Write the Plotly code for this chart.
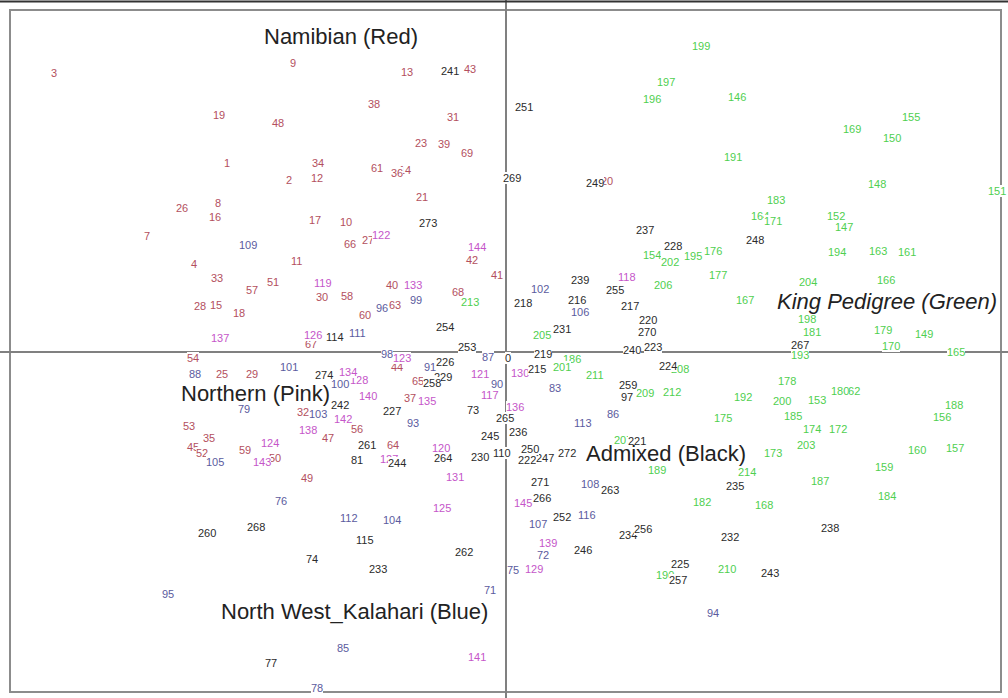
import plotly.graph_objects as go

# PCA sample scores: (sample id, PC1, PC2), grouped by population
NAMIBIAN = [
    ("3", -4.52, 2.79), ("9", -2.13, 2.89), ("13", -0.99, 2.80), ("43", -0.36, 2.83),
    ("38", -1.32, 2.48), ("19", -2.87, 2.37), ("48", -2.28, 2.29), ("31", -0.53, 2.35),
    ("23", -0.85, 2.09), ("39", -0.62, 2.08), ("69", -0.39, 1.99), ("1", -2.79, 1.89),
    ("34", -1.88, 1.89), ("12", -1.89, 1.74), ("2", -2.17, 1.72), ("61", -1.29, 1.84),
    ("36", -1.09, 1.79), ("14", -1.01, 1.82), ("20", 1.01, 1.71), ("21", -0.84, 1.55),
    ("26", -3.24, 1.44), ("8", -2.88, 1.49), ("16", -2.91, 1.35), ("7", -3.59, 1.16),
    ("17", -1.91, 1.32), ("10", -1.60, 1.30), ("27", -1.38, 1.12), ("66", -1.56, 1.08),
    ("11", -2.10, 0.91), ("42", -0.34, 0.92), ("4", -3.12, 0.88), ("41", -0.09, 0.77),
    ("33", -2.89, 0.74), ("51", -2.33, 0.70), ("57", -2.54, 0.62), ("40", -1.14, 0.67),
    ("30", -1.84, 0.55), ("58", -1.59, 0.56), ("68", -0.48, 0.60), ("63", -1.11, 0.47),
    ("28", -3.06, 0.46), ("15", -2.90, 0.47), ("18", -2.67, 0.39), ("60", -1.41, 0.37),
    ("67", -1.95, 0.08), ("54", -3.13, -0.06), ("25", -2.84, -0.22), ("29", -2.54, -0.22),
    ("44", -1.09, -0.15), ("65", -0.88, -0.29), ("37", -0.96, -0.46), ("32", -2.03, -0.60),
    ("53", -3.17, -0.74), ("56", -1.49, -0.77), ("35", -2.97, -0.86), ("47", -1.78, -0.86),
    ("64", -1.13, -0.93), ("45", -3.13, -0.95), ("52", -3.04, -1.01), ("59", -2.61, -0.98),
    ("50", -2.31, -1.06), ("49", -1.99, -1.26),
]

NORTHERN = [
    ("137", -2.86, 0.14), ("144", -0.29, 1.05), ("122", -1.25, 1.17), ("119", -1.83, 0.69),
    ("133", -0.93, 0.67), ("126", -1.93, 0.17), ("123", -1.04, -0.06), ("134", -1.58, -0.20),
    ("128", -1.47, -0.28), ("121", -0.26, -0.22), ("117", -0.16, -0.43), ("140", -1.38, -0.44),
    ("135", -0.79, -0.49), ("142", -1.63, -0.67), ("138", -1.98, -0.78), ("124", -2.36, -0.91),
    ("143", -2.44, -1.10), ("127", -1.17, -1.07), ("120", -0.65, -0.96), ("131", -0.51, -1.25),
    ("125", -0.64, -1.56), ("141", -0.29, -3.05), ("118", 1.21, 0.75), ("136", 0.09, -0.55),
    ("145", 0.17, -1.51), ("139", 0.42, -1.91), ("129", 0.28, -2.17), ("130", 0.14, -0.21),
]

KALAHARI = [
    ("109", -2.58, 1.07), ("99", -0.90, 0.52), ("96", -1.24, 0.44), ("111", -1.49, 0.19),
    ("98", -1.19, -0.02), ("87", -0.18, -0.05), ("88", -3.11, -0.22), ("101", -2.17, -0.15),
    ("100", -1.66, -0.32), ("90", -0.09, -0.32), ("79", -2.62, -0.57), ("103", -1.88, -0.62),
    ("93", -0.93, -0.71), ("105", -2.91, -1.10), ("76", -2.25, -1.49), ("112", -1.57, -1.66),
    ("104", -1.14, -1.68), ("95", -3.38, -2.42), ("71", -0.16, -2.38), ("85", -1.63, -2.96),
    ("78", -1.89, -3.36), ("102", 0.34, 0.63), ("106", 0.74, 0.40), ("83", 0.49, -0.36),
    ("86", 1.07, -0.62), ("113", 0.77, -0.71), ("108", 0.84, -1.32), ("116", 0.81, -1.63),
    ("107", 0.32, -1.72), ("75", 0.07, -2.18), ("94", 2.07, -2.61), ("72", 0.37, -2.03),
    ("91", -0.76, -0.15),
]

KING = [
    ("199", 1.95, 3.06), ("197", 1.60, 2.70), ("196", 1.46, 2.53), ("146", 2.31, 2.55),
    ("155", 4.05, 2.35), ("169", 3.46, 2.23), ("150", 3.86, 2.14), ("191", 2.27, 1.95),
    ("148", 3.71, 1.68), ("151", 4.91, 1.61), ("183", 2.70, 1.52), ("164", 2.54, 1.36),
    ("171", 2.67, 1.31), ("152", 3.30, 1.36), ("147", 3.38, 1.25), ("194", 3.31, 1.00),
    ("163", 3.72, 1.01), ("161", 4.01, 1.00), ("154", 1.46, 0.97), ("202", 1.64, 0.90),
    ("195", 1.87, 0.96), ("176", 2.07, 1.01), ("177", 2.12, 0.77), ("206", 1.57, 0.67),
    ("204", 3.02, 0.70), ("166", 3.80, 0.72), ("167", 2.39, 0.52), ("213", -0.36, 0.50),
    ("205", 0.36, 0.17), ("198", 3.01, 0.33), ("181", 3.06, 0.20), ("179", 3.77, 0.22),
    ("149", 4.18, 0.18), ("170", 3.85, 0.06), ("193", 2.94, -0.03), ("165", 4.50, 0.00),
    ("186", 0.66, -0.07), ("201", 0.56, -0.15), ("211", 0.89, -0.23), ("208", 1.74, -0.17),
    ("209", 1.39, -0.41), ("212", 1.66, -0.40), ("178", 2.81, -0.29), ("180", 3.34, -0.39),
    ("162", 3.45, -0.39), ("192", 2.37, -0.45), ("200", 2.76, -0.49), ("153", 3.11, -0.48),
    ("188", 4.48, -0.53), ("156", 4.36, -0.65), ("185", 2.87, -0.64), ("175", 2.17, -0.66),
    ("174", 3.06, -0.77), ("172", 3.32, -0.77), ("203", 3.00, -0.93), ("173", 2.67, -1.01),
    ("160", 4.11, -0.98), ("157", 4.49, -0.96), ("207", 1.17, -0.88), ("159", 3.78, -1.15),
    ("189", 1.51, -1.18), ("214", 2.41, -1.20), ("187", 3.14, -1.29), ("184", 3.81, -1.44),
    ("182", 1.96, -1.50), ("168", 2.58, -1.53), ("210", 2.21, -2.17), ("190", 1.59, -2.23),
]

ADMIXED = [
    ("241", -0.56, 2.81), ("251", 0.18, 2.45), ("269", 0.06, 1.74), ("249", 0.89, 1.69),
    ("273", -0.78, 1.29), ("237", 1.39, 1.22), ("228", 1.67, 1.06), ("248", 2.49, 1.12),
    ("239", 0.74, 0.72), ("255", 1.09, 0.62), ("218", 0.17, 0.49), ("216", 0.71, 0.52),
    ("217", 1.24, 0.46), ("220", 1.42, 0.32), ("270", 1.41, 0.20), ("231", 0.56, 0.23),
    ("254", -0.61, 0.25), ("253", -0.39, 0.05), ("219", 0.37, -0.02), ("240", 1.26, 0.02),
    ("223", 1.47, 0.05), ("267", 2.94, 0.07), ("215", 0.31, -0.17), ("224", 1.62, -0.14),
    ("226", -0.61, -0.10), ("274", -1.82, -0.23), ("258", -0.74, -0.31), ("229", -0.63, -0.25),
    ("259", 1.22, -0.33), ("97", 1.21, -0.45), ("242", -1.66, -0.53), ("227", -1.14, -0.59),
    ("73", -0.33, -0.58), ("265", -0.01, -0.66), ("236", 0.12, -0.80), ("245", -0.16, -0.84),
    ("221", 1.31, -0.89), ("261", -1.39, -0.93), ("250", 0.24, -0.97), ("222", 0.21, -1.08),
    ("247", 0.39, -1.06), ("272", 0.61, -1.01), ("110", -0.04, -1.01), ("230", -0.26, -1.05),
    ("264", -0.63, -1.06), ("81", -1.49, -1.08), ("244", -1.09, -1.11), ("271", 0.34, -1.30),
    ("263", 1.04, -1.38), ("235", 2.29, -1.34), ("266", 0.36, -1.46), ("252", 0.56, -1.65),
    ("234", 1.22, -1.83), ("256", 1.37, -1.77), ("232", 2.24, -1.85), ("238", 3.24, -1.76),
    ("246", 0.77, -1.98), ("260", -2.99, -1.81), ("268", -2.50, -1.75), ("115", -1.41, -1.88),
    ("262", -0.42, -2.00), ("74", -1.94, -2.07), ("233", -1.28, -2.17), ("225", 1.74, -2.12),
    ("257", 1.72, -2.28), ("243", 2.64, -2.21), ("77", -2.35, -3.11), ("114", -1.71, 0.15),
    ("0", 0.02, -0.06),
]

GROUPS = [
    ("Namibian", NAMIBIAN, "#b3505e"),
    ("Northern", NORTHERN, "#c556c9"),
    ("North West_Kalahari", KALAHARI, "#5b5b9e"),
    ("King Pedigree", KING, "#4fcf4f"),
    ("Admixed", ADMIXED, "#2b2b2b"),
]

FONT = "Liberation Sans, Arial, sans-serif"

fig = go.Figure()

# invisible point layer carrying the scores (hover only)
for name, pts, color in GROUPS:
    fig.add_trace(go.Scatter(
        x=[p[1] for p in pts], y=[p[2] for p in pts],
        text=[p[0] for p in pts], mode="markers", name=name,
        marker=dict(size=6, color=color, opacity=0),
        hovertemplate="%{text}<extra>" + name + "</extra>", showlegend=False,
    ))

# sample-id labels, drawn in id order with an opaque white box
labels = []
for name, pts, color in GROUPS:
    for lab, x, y in pts:
        labels.append((int(lab), lab, x, y, color))
labels.sort(key=lambda t: t[0])

annotations = [
    dict(x=x, y=y, xref="x", yref="y", text=lab, showarrow=False,
         font=dict(family=FONT, size=11, color=color),
         bgcolor="white", borderpad=0, borderwidth=0)
    for _, lab, x, y, color in labels
]

# population captions
captions = [
    ("Namibian (Red)", -1.65, 3.16, False),
    ("Northern (Pink)", -2.51, -0.41, False),
    ("Admixed (Black)", 1.60, -1.01, False),
    ("<i>King Pedigree (Green)</i>", 3.81, 0.51, True),
    ("North West_Kalahari (Blue)", -1.52, -2.59, False),
]
for text, x, y, _ in captions:
    annotations.append(dict(x=x, y=y, xref="x", yref="y", text=text, showarrow=False,
                            font=dict(family=FONT, size=22, color="#222222")))

fig.update_layout(
    width=1008, height=698,
    margin=dict(l=0, r=0, t=0, b=0),
    paper_bgcolor="white", plot_bgcolor="white",
    annotations=annotations,
    xaxis=dict(range=[-5.06, 5.02], showgrid=False, showticklabels=False, ticks="",
               zeroline=True, zerolinecolor="#808080", zerolinewidth=2, fixedrange=True),
    yaxis=dict(range=[-3.46, 3.52], showgrid=False, showticklabels=False, ticks="",
               zeroline=True, zerolinecolor="#808080", zerolinewidth=2, fixedrange=True),
    shapes=[
        dict(type="rect", xref="paper", yref="paper",
             x0=10 / 1008, x1=1001 / 1008, y0=1 - 692 / 698, y1=1 - 10 / 698,
             line=dict(color="#8c8c8c", width=2), layer="below"),
        dict(type="line", xref="paper", yref="paper",
             x0=0, x1=1, y0=1 - 1.5 / 698, y1=1 - 1.5 / 698,
             line=dict(color="#333333", width=2)),
    ],
    hovermode="closest",
)

fig.write_html("out.html")
